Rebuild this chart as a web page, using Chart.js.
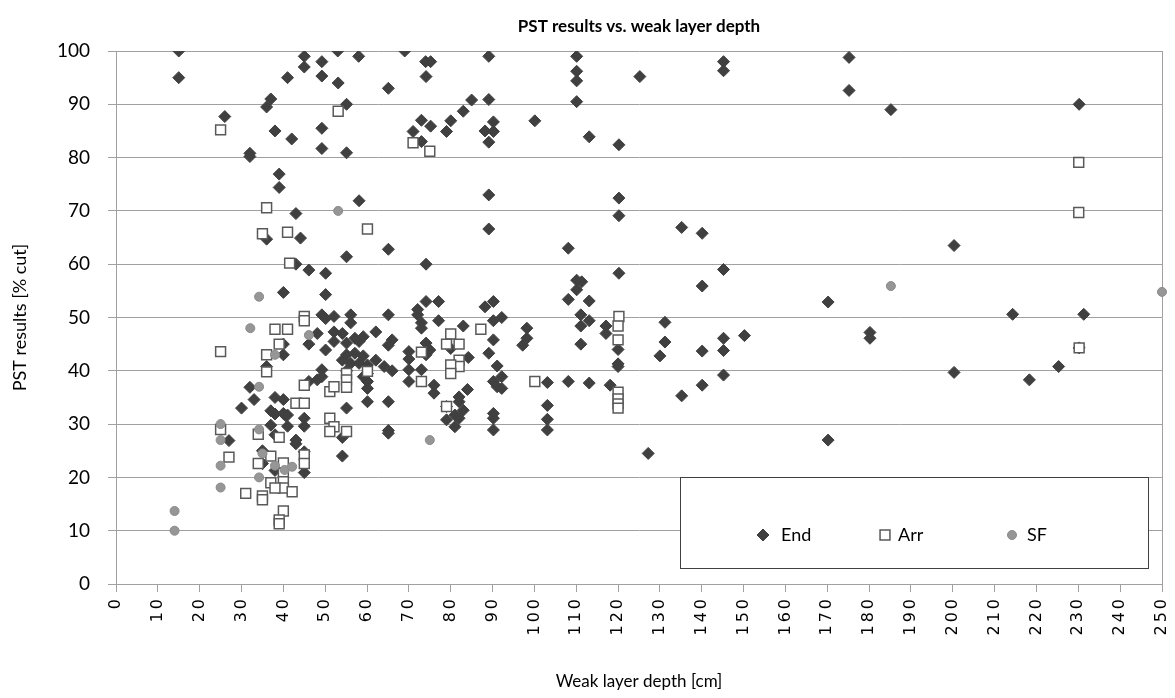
<!DOCTYPE html>
<html>
<head>
<meta charset="utf-8">
<title>PST results vs. weak layer depth</title>
<script src="https://cdn.jsdelivr.net/npm/chart.js@4.4.1/dist/chart.umd.min.js"></script>
<style>
  html, body { margin: 0; padding: 0; background: #fff; }
  #wrap { width: 1175px; height: 698px; }
</style>
</head>
<body>
<div id="wrap"><canvas id="pstChart"></canvas></div>
<script>
// [weak layer depth cm, PST % cut]
const seriesNames = ['End', 'Arr', 'SF'];
const chartTitle = 'PST results vs. weak layer depth';

const endPoints = [
    [15,100],[15,95],[41,95],[37,91],[36,89.5],[26,87.7],[38,85],[32,80.8],[32,80.2],[39,76.9],[39,74.4],[36,64.7],[40,54.7],
    [40,45],[40,43],[36,40.8],[32,36.9],[33,34.6],[38,35],[40,34.6],[30,33],[37,32.5],[38,31.9],[40.5,31.6],[37,29.8],[38,28],
    [27,26.9],[35,25],[35,22.6],[38,21.3],
    [53,100],[69,100],[45,99],[45,97],[49.2,98],[58,99],[74,98],[75.2,98],[49.2,95.3],[53.1,94],[74.1,95.2],[65.1,93],[55.1,90],
    [85,90.8],[83,88.7],[80,86.9],[79,84.9],[73,87],[75.2,85.9],[71,84.9],[73,83],[49.2,85.5],[42,83.5],[49.2,81.7],[55.1,80.9],
    [58.1,71.9],[43,69.5],[44.1,64.9],[65.1,62.8],[55.1,61.4],[43,60],[74.1,60],[46.1,58.9],[50.1,58.3],[50.1,54.3],[74.1,53],
    [77.1,53],[72.1,51.5],
    [49.2,50.5],[50.1,49.8],[52.1,50.2],[56.1,50.5],[56.1,49],[65.1,50.5],[72.1,50.5],[73,49],[73,48],[77.1,49.4],[83,48.4],
    [48.1,47],[46.1,45],[52.1,47.3],[52.1,45.5],[54.1,47],[55.1,45.2],[50.1,43.9],[57.1,46.1],[58.1,45.5],[59.1,46.4],[62.1,47.3],
    [66,45.8],[65.1,44.8],
    [54.1,42],[55.1,43],[56.1,41.4],[57.1,43.3],[58.1,41.4],[59.1,42.8],[60.1,41.1],[62.1,42],[64.1,40.8],[66,40],[55.1,40],
    [59.1,38.9],[60.1,39.5],[60.1,38],[60.1,36.7],[49.2,40.2],[49.2,38.9],[48.1,38.3],[46.1,38],
    [70,43.6],[70,42.2],[70,40.2],[70,38],[73,40.2],[74.1,45.2],[74.1,43],[75,43.9],[76,37.3],[76,35.8],
    [40,32],[55.1,33],[60.1,34.2],[65.1,34.2],[41,31.7],[41,29.6],[45,31.1],[45,29.6],[54.1,27.5],[65.1,28.8],[65.1,28.3],
    [80,44.2],[84.2,42.5],[84,36.5],[82,35.1],[82,34.2],[83,32.6],[81,31.7],[79,33.3],[79,30.8],[81,29.5],[82,31.1],
    [43,27],[43,26.3],[45,24.8],[45,20.9],[54.1,24],
    [89.1,99],[110.1,99],[110.1,96.2],[110.1,94.4],[125.2,95.2],[89.1,90.9],[110.1,90.5],[90.2,86.7],[88.2,85],[90.2,84.9],
    [89.1,82.9],[100.1,86.9],[113.1,83.9],[120.2,82.4],[89.1,73],[120.2,72.4],[120.2,69.1],[89.1,66.6],[108.1,63],[120.2,58.3],
    [110.1,57],[111.3,56.7],[110.1,55.2],[108.1,53.4],[113.1,53.1],[88.2,52],[90.2,53],
    [90.2,49.4],[92.2,50],[98.2,48],[98.2,46.1],[97.2,44.8],[89.1,43.3],[90.2,45.8],[91.1,40.9],[92.2,38.9],[90.2,38],[91.1,37],
    [92.2,36.7],[90.2,32],[90.2,31.1],[90.2,28.9],
    [103.1,37.8],[103.1,33.5],[103.1,30.9],[103.1,28.9],[108.1,38],[113.1,37.7],[118.1,37.3],
    [111.1,50.5],[111.1,48.4],[113.1,49.4],[111.1,45],[117.1,48.4],[117.1,47],[120,44],[120,41.3],[120,40.8],[131.2,49.1],
    [131.2,45.4],[130,42.8],[127.2,24.5],
    [145.2,98],[145.2,96.3],[175.2,98.8],[175.2,92.6],[185.2,89],[135.2,66.9],[140.1,65.8],[145.2,59],[140.1,55.9],[170.2,52.9],
    [140.1,43.7],[145.2,46.1],[145.2,43.8],[150.2,46.6],[180.2,47.2],[180.2,46.1],[135.2,35.3],[140.1,37.3],[145.2,39.2],[170.2,27],
    [230.2,90],[200.3,63.5],[214.3,50.6],[231.3,50.6],[230.2,44.3],[200.3,39.7],[218.3,38.3],[225.3,40.8]
];

const arrPoints = [
    [25,85.2],[36,70.6],[35,65.7],[41,66],[41.5,60.2],[38,47.8],[41,47.8],[25,43.6],[39,45],[36,43],[36,39.8],[25,29],[34,28.1],
    [39,27.5],[27,23.8],[37,24],[34,22.6],[40,22.7],[40,20.8],[40,19.2],[40,18],[37,19],[38,18],[31,17],[35,16.5],[35,15.8],
    [40,13.7],[39,12],[39,11.3],
    [53.1,88.7],[71,82.8],[75,81.2],[60.1,66.6],[45,50.2],[45,49.4],[55.1,39.5],[60.1,39.9],[45,37.3],[51.1,36.1],[52.1,37],
    [55.1,38.3],[55.1,36.9],[73,43.5],[73,38],[43,33.9],[45,33.9],[51.1,31.1],[52.1,29.5],[51.1,28.6],[55.1,28.6],
    [80,46.9],[79,45],[82,45],[82,42],[82,40.8],[80,41.1],[80,39.5],[79,33.3],[45,24.2],[45,22.6],[42.1,17.3],
    [87.2,47.8],[100.1,38],[120,36],[120,34.7],[120,33.8],[120,33],[120.2,50.2],[120,48.4],[120,45.8],
    [230.1,79.1],[230.1,69.7],[230.2,44.3]
];

const sfPoints = [
    [34.2,53.9],[32.1,48],[38,43],[34.2,37],[25,30],[34.2,29],[25,27],[35,24.5],[38,22.2],[40.3,21.4],[25,22.2],[34.2,20],
    [25,18.1],[14,13.7],[14,10],[53.1,70],[46.1,46.7],[75,27],[42.1,22],[185.2,55.9],[250,54.8]
];

const FONT = "Lato, 'Open Sans', sans-serif";
const toXY = pts => pts.map(p => ({ x: p[0], y: p[1] }));

// title centred over the plot, right frame line, spaced x tick labels
const plotDecor = {
    id: 'plotDecor',
    beforeDatasetsDraw(chart) {
        const { ctx, chartArea: a } = chart;
        ctx.save();
        ctx.strokeStyle = '#a0a0a0';
        ctx.lineWidth = 1;
        ctx.beginPath();
        ctx.moveTo(a.right + 0.5, a.top);
        ctx.lineTo(a.right + 0.5, a.bottom);
        ctx.stroke();
        ctx.restore();
    },
    afterDatasetsDraw(chart) {
        // x tick labels are drawn on their own layer right after this
        chart.ctx.letterSpacing = '3px';
    },
    afterDraw(chart) {
        const { ctx, chartArea: a } = chart;
        ctx.letterSpacing = '0px';
        ctx.save();
        ctx.fillStyle = '#000';
        ctx.font = 'bold 17px ' + FONT;
        ctx.textAlign = 'center';
        ctx.textBaseline = 'middle';
        ctx.fillText(chartTitle, (a.left + a.right) / 2, 27);
        ctx.restore();
    }
};

// boxed legend sitting inside the plot, lower right
const legendBox = {
    id: 'legendBox',
    afterDraw(chart) {
        const { ctx } = chart;
        const left = 680, top = 477, w = 468, h = 91;
        const markerX = [763, 885, 1012];
        const textX = [781, 898, 1027];
        const cy = 535;
        ctx.save();
        ctx.letterSpacing = '0px';
        ctx.fillStyle = '#fff';
        ctx.fillRect(left, top, w, h);
        ctx.strokeStyle = '#404040';
        ctx.lineWidth = 1;
        ctx.strokeRect(left + 0.5, top + 0.5, w, h);
        ctx.font = '18px ' + FONT;
        ctx.textBaseline = 'middle';
        chart.data.datasets.forEach((ds, i) => {
            ctx.fillStyle = ds.backgroundColor;
            ctx.strokeStyle = ds.borderColor;
            ctx.lineWidth = ds.borderWidth;
            Chart.helpers.drawPoint(ctx, {
                pointStyle: ds.pointStyle,
                radius: ds.pointRadius,
                rotation: 0,
                borderWidth: ds.borderWidth
            }, markerX[i], cy);
            ctx.fillStyle = '#000';
            ctx.fillText(ds.label, textX[i], cy);
        });
        ctx.restore();
    }
};

function initPstChart() {
    const ctx = document.getElementById('pstChart').getContext('2d');
    new Chart(ctx, {
        type: 'scatter',
        data: {
            datasets: [{
                label: seriesNames[0],
                data: toXY(endPoints),
                pointStyle: 'rectRot',
                pointRadius: 6,
                backgroundColor: '#404040',
                borderColor: '#404040',
                borderWidth: 1,
                order: 3
            }, {
                label: seriesNames[1],
                data: toXY(arrPoints),
                pointStyle: 'rect',
                pointRadius: 7,
                backgroundColor: '#ffffff',
                borderColor: '#595959',
                borderWidth: 1.5,
                order: 2
            }, {
                label: seriesNames[2],
                data: toXY(sfPoints),
                pointStyle: 'circle',
                pointRadius: 4.5,
                backgroundColor: '#969696',
                borderColor: '#8a8a8a',
                borderWidth: 1,
                order: 1,
                clip: false
            }]
        },
        options: {
            responsive: true,
            maintainAspectRatio: false,
            animation: false,
            layout: { padding: { left: 0, right: 13, top: 51, bottom: 0 } },
            plugins: {
                legend: { display: false },
                tooltip: { enabled: false },
                title: { display: false }
            },
            scales: {
                x: {
                    type: 'linear',
                    min: 0,
                    max: 250,
                    afterFit: (scale) => {
                        scale.height = 114;
                        scale.paddingLeft = 0;
                        scale.paddingRight = 0;
                    },
                    ticks: {
                        stepSize: 10,
                        autoSkip: false,
                        minRotation: 90,
                        maxRotation: 90,
                        padding: 4,
                        z: 1,
                        color: '#000',
                        font: { family: "'DejaVu Sans'", size: 16 }
                    },
                    grid: { drawOnChartArea: false, drawTicks: true, tickLength: 8, color: '#a0a0a0' },
                    border: { color: '#a0a0a0' },
                    title: {
                        display: true,
                        text: 'Weak layer depth [cm]',
                        color: '#000',
                        font: { family: FONT, size: 17 },
                        padding: { top: 4, bottom: 6 }
                    }
                },
                y: {
                    min: 0,
                    max: 100,
                    afterFit: (scale) => { scale.width = 116; },
                    ticks: {
                        stepSize: 10,
                        padding: 18,
                        color: '#000',
                        font: { family: FONT, size: 19 }
                    },
                    grid: { color: '#a0a0a0', tickLength: 8 },
                    border: { color: '#a0a0a0' },
                    title: {
                        display: true,
                        text: 'PST results [% cut]',
                        color: '#000',
                        font: { family: FONT, size: 18 },
                        padding: { top: 9, bottom: 0 }
                    }
                }
            }
        },
        plugins: [plotDecor, legendBox]
    });
}

document.addEventListener('DOMContentLoaded', () => {
    initPstChart();
});
</script>
</body>
</html>
